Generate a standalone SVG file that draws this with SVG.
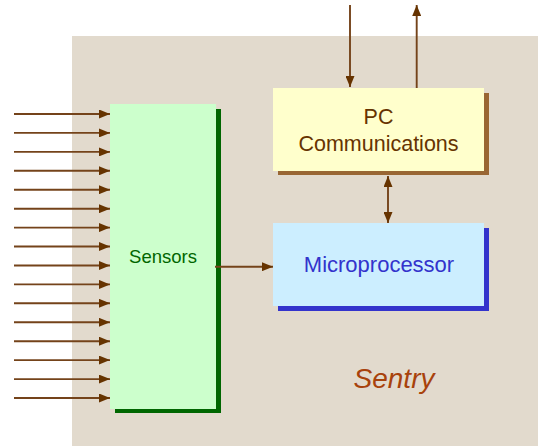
<svg xmlns="http://www.w3.org/2000/svg" width="538" height="446" viewBox="0 0 538 446">
<style>
.ln{stroke:#74431A;stroke-width:1.9;fill:none}
.lbl{font-family:"Liberation Sans",Arial,sans-serif;text-anchor:middle}
</style>
<defs>
<marker id="ah" markerWidth="11" markerHeight="9" refX="11" refY="4.5" orient="auto" markerUnits="userSpaceOnUse">
<path d="M0,0 L11,4.5 L0,9 Z" fill="#663300"/>
</marker>
<marker id="ahs" markerWidth="11" markerHeight="9" refX="0" refY="4.5" orient="auto" markerUnits="userSpaceOnUse">
<path d="M11,0 L0,4.5 L11,9 Z" fill="#663300"/>
</marker>
</defs>
<rect width="538" height="446" fill="#ffffff"/>
<rect id="background" x="72" y="36" width="466" height="410" fill="#E2DACD"/>
<g id="sensors">
<rect x="115" y="109" width="106" height="304" fill="#006600"/>
<rect x="110" y="104" width="106" height="305" fill="#CCFFCC"/>
<text class="lbl" x="163" y="263" font-size="18.5" fill="#006600">Sensors</text>
</g>
<g id="pc">
<rect x="278" y="93" width="211" height="82" fill="#996633"/>
<rect x="273" y="88" width="211" height="83" fill="#FFFFCC"/>
<text class="lbl" x="378.5" y="124" font-size="21.5" fill="#663300">PC</text>
<text class="lbl" x="378.5" y="151" font-size="21.5" fill="#663300">Communications</text>
</g>
<g id="micro">
<rect x="278" y="228" width="211" height="83" fill="#3333CC"/>
<rect x="273" y="223" width="211" height="83" fill="#CCEEFF"/>
<text class="lbl" x="379" y="272" font-size="22" fill="#3333CC">Microprocessor</text>
</g>
<g id="sentry">
<text class="lbl" x="394" y="388" font-size="28" font-style="italic" fill="#A8420C">Sentry</text>
</g>
<g id="connectors">
<line class="ln" x1="14" y1="114" x2="110" y2="114" marker-end="url(#ah)"/>
<line class="ln" x1="14" y1="132.9" x2="110" y2="132.9" marker-end="url(#ah)"/>
<line class="ln" x1="14" y1="151.9" x2="110" y2="151.9" marker-end="url(#ah)"/>
<line class="ln" x1="14" y1="170.8" x2="110" y2="170.8" marker-end="url(#ah)"/>
<line class="ln" x1="14" y1="189.7" x2="110" y2="189.7" marker-end="url(#ah)"/>
<line class="ln" x1="14" y1="208.7" x2="110" y2="208.7" marker-end="url(#ah)"/>
<line class="ln" x1="14" y1="227.6" x2="110" y2="227.6" marker-end="url(#ah)"/>
<line class="ln" x1="14" y1="246.5" x2="110" y2="246.5" marker-end="url(#ah)"/>
<line class="ln" x1="14" y1="265.5" x2="110" y2="265.5" marker-end="url(#ah)"/>
<line class="ln" x1="14" y1="284.4" x2="110" y2="284.4" marker-end="url(#ah)"/>
<line class="ln" x1="14" y1="303.3" x2="110" y2="303.3" marker-end="url(#ah)"/>
<line class="ln" x1="14" y1="322.3" x2="110" y2="322.3" marker-end="url(#ah)"/>
<line class="ln" x1="14" y1="341.2" x2="110" y2="341.2" marker-end="url(#ah)"/>
<line class="ln" x1="14" y1="360.1" x2="110" y2="360.1" marker-end="url(#ah)"/>
<line class="ln" x1="14" y1="379.1" x2="110" y2="379.1" marker-end="url(#ah)"/>
<line class="ln" x1="14" y1="398" x2="110" y2="398" marker-end="url(#ah)"/>
<line class="ln" x1="215" y1="266.7" x2="273" y2="266.7" marker-end="url(#ah)"/>
<line class="ln" x1="350" y1="5" x2="350" y2="87" marker-end="url(#ah)"/>
<line class="ln" x1="416.7" y1="88" x2="416.7" y2="5" marker-end="url(#ah)"/>
<line class="ln" x1="388" y1="176" x2="388" y2="223" marker-start="url(#ahs)" marker-end="url(#ah)"/>
</g>
</svg>
